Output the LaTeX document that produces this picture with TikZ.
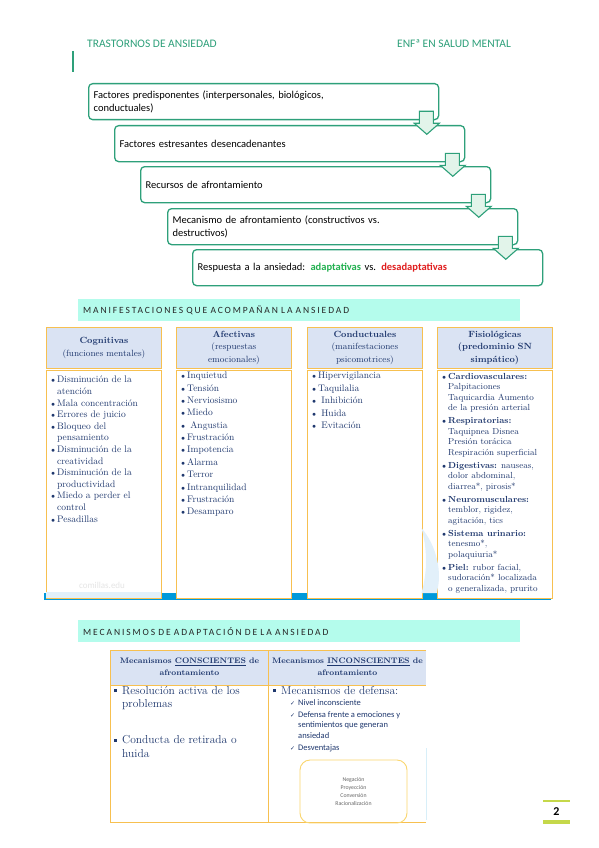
\documentclass[tikz,border=0pt]{standalone}
\usepackage{fontspec}
\usepackage{tikz}
\newfontfamily\calib{Carlito}
\newfontfamily\calibesp[LetterSpace=20]{Carlito}
\newfontfamily\dejav{DejaVu Sans}
\definecolor{verde}{RGB}{46,160,122}
\definecolor{verdeclaro}{RGB}{226,244,234}
\definecolor{menta}{RGB}{180,252,236}
\definecolor{azulcab}{RGB}{218,227,243}
\definecolor{naranja}{RGB}{247,192,80}
\definecolor{amarillo}{RGB}{250,214,110}
\definecolor{marino}{RGB}{31,56,110}
\definecolor{azulfranja}{RGB}{0,153,218}
\definecolor{celeste}{RGB}{226,240,250}
\definecolor{lima}{RGB}{197,216,74}
\definecolor{verdeadap}{RGB}{34,176,80}
\definecolor{rojodes}{RGB}{224,30,30}
\newcommand\pto{\makebox[6pt][l]{\fontsize{7}{7}\selectfont$\bullet$}}
\newcommand\sgue{\hspace*{6pt}}
\newcommand\cuad{\makebox[8pt][l]{\rule[2pt]{3.2pt}{3.2pt}}}
\newcommand\visto{\makebox[8pt][l]{\dejav\fontsize{6}{6}\selectfont ✓}}
\tikzset{
  cabeza/.style={anchor=west, inner sep=0pt, text=verde, font=\calib\fontsize{11.5}{12}\selectfont},
  paso/.style={draw=verde, line width=1.3pt, rounded corners=4pt, fill=white, anchor=north west,
    minimum height=36pt, text width=340pt, inner xsep=5pt, inner ysep=0pt, align=left,
    font=\calib\fontsize{10.5}{12.5}\selectfont},
  flecha/.style={draw=verde, fill=verdeclaro, line width=1.1pt, line join=miter},
  franja/.style={fill=menta, anchor=north west, minimum height=22pt, text width=432pt,
    inner xsep=5pt, inner ysep=0pt, align=left, text=black!85, font=\calibesp\fontsize{9.5}{10}\selectfont},
  cabecera/.style={fill=azulcab, draw=naranja, line width=0.8pt, anchor=north west, minimum height=41pt,
    text width=110pt, inner xsep=2.5pt, inner ysep=0pt, align=center, text=marino,
    font=\fontsize{9}{12.5}\selectfont},
  cuerpo/.style={fill=white, draw=naranja, line width=0.8pt, anchor=north west, minimum width=115pt,
    minimum height=228pt, inner sep=0pt},
  lista/.style={anchor=north west, inner sep=0pt, align=left, text=marino},
  cabtab/.style={inner sep=0pt, align=center, text=marino, font=\bfseries\fontsize{8}{12}\selectfont},
  recuadro/.style={draw=amarillo, line width=0.9pt, rounded corners=10pt, minimum width=107pt,
    minimum height=63pt, align=center, text=black!60, font=\calib\fontsize{5.8}{8}\selectfont}
}
\begin{document}
\begin{tikzpicture}[x=1pt,y=-1pt]
\fill[white] (0,0) rectangle (599,848);
\useasboundingbox (0,0) rectangle (599,848);

\node[cabeza] (tit) at (87,44) {TRASTORNOS DE ANSIEDAD};
\node[cabeza] (enf) at (397,44) {ENFª EN SALUD MENTAL};
\draw[verde, line width=2pt] (73,51) -- (73,72);

\node[paso] (p1) at (88,83) {Factores predisponentes (interpersonales, biológicos,\\conductuales)};
\node[paso] (p2) at (114,125) {Factores estresantes desencadenantes};
\node[paso] (p3) at (140,166) {Recursos de afrontamiento};
\node[paso] (p4) at (167,208) {Mecanismo de afrontamiento (constructivos vs.\\destructivos)};
\node[paso] (p5) at (192,249) {Respuesta a la ansiedad: {\bfseries\color{verdeadap}adaptativas} vs. {\bfseries\color{rojodes}desadaptativas}};

\foreach \p in {p1,p2,p3,p4}
  \draw[flecha, shift={(\p.south east)}] (-6,-9) -- (-20,-9) -- (-20,3) -- (-25,3) -- (-12.5,14) -- (0,3) -- (-6,3) -- cycle;

\node[franja] (man) at (78,299) {MANIFESTACIONES QUE ACOMPAÑAN LA ANSIEDAD};

\node[cabecera] (cog) at (46,327) {\textbf{Cognitivas}\\(funciones mentales)};
\node[cabecera] (afe) at (176,327) {\textbf{Afectivas}\\(respuestas\\emocionales)};
\node[cabecera] (con) at (307,327) {\textbf{Conductuales}\\(manifestaciones\\psicomotrices)};
\node[cabecera] (fis) at (437,327) {\textbf{Fisiológicas}\\\textbf{(predominio SN}\\\textbf{simpático)}};

\fill[azulfranja] (44,593) rectangle (551,600);
\node[cuerpo] (cogc) at (46,370) {};
\node[cuerpo] (afec) at (176,370) {};
\node[cuerpo] (conc) at (307,370) {};
\node[cuerpo] (fisc) at (437,370) {};
\fill[celeste] (46.4,592) rectangle (160.6,597.6);
\fill[celeste] (421.5,528) .. controls (436,545) and (443,572) .. (436.6,593) -- (421.5,593) .. controls (428,570) and (427,548) .. cycle;
\node[font=\calib\fontsize{9}{9}\selectfont, text=black!10] (marca) at (102,585) {comillas.edu};

\node[lista, font=\fontsize{9.5}{11.6}\selectfont] (cogl) at ([xshift=5pt,yshift=-6pt]cogc.north west)
  {\pto Disminución de la\\ \sgue atención\\ \pto Mala concentración\\ \pto Errores de juicio\\
   \pto Bloqueo del\\ \sgue pensamiento\\ \pto Disminución de la\\ \sgue creatividad\\
   \pto Disminución de la\\ \sgue productividad\\ \pto Miedo a perder el\\ \sgue control\\ \pto Pesadillas};
\node[lista, font=\fontsize{9.5}{12.36}\selectfont] (afel) at ([xshift=5pt,yshift=-2pt]afec.north west)
  {\pto Inquietud\\ \pto Tensión\\ \pto Nerviosismo\\ \pto Miedo\\ \pto\ Angustia\\ \pto Frustración\\
   \pto Impotencia\\ \pto Alarma\\ \pto Terror\\ \pto Intranquilidad\\ \pto Frustración\\ \pto Desamparo};
\node[lista, font=\fontsize{9.5}{12.5}\selectfont] (conl) at ([xshift=5pt,yshift=-2pt]conc.north west)
  {\pto Hipervigilancia\\ \pto Taquilalia\\ \pto\ Inhibición\\ \pto\ Huida\\ \pto\ Evitación};
\node[lista, font=\fontsize{8.8}{10.5}\selectfont] (fisl) at ([xshift=5pt,yshift=-3pt]fisc.north west)
  {\pto\textbf{Cardiovasculares:}\\ \sgue Palpitaciones\\ \sgue Taquicardia Aumento\\ \sgue de la presión arterial\\[2.5pt]
   \pto\textbf{Respiratorias:}\\ \sgue Taquipnea Disnea\\ \sgue Presión torácica\\ \sgue Respiración superficial\\[2.5pt]
   \pto\textbf{Digestivas:} nauseas,\\ \sgue dolor abdominal,\\ \sgue diarrea*, pirosis*\\[2.5pt]
   \pto\textbf{Neuromusculares:}\\ \sgue temblor, rigidez,\\ \sgue agitación, tics\\[2.5pt]
   \pto\textbf{Sistema urinario:}\\ \sgue tenesmo*,\\ \sgue polaquiuria*\\[2.5pt]
   \pto\textbf{Piel:} rubor facial,\\ \sgue sudoración* localizada\\ \sgue o generalizada, prurito};

\node[franja] (meca) at (78,620) {MECANISMOS DE ADAPTACIÓN DE LA ANSIEDAD};

\fill[azulcab] (110,650) rectangle (426,685);
\draw[naranja, line width=1pt] (110,650) -- (426,650) (110,685) -- (426,685)
  (110,650) -- (110,822) -- (426,822) (268.5,650) -- (268.5,822);
\draw[celeste!70!azulfranja!40, line width=0.8pt] (426.5,748) -- (426.5,820);
\node[cabtab] (consc) at (189.5,667) {Mecanismos \underline{CONSCIENTES} de\\afrontamiento};
\node[cabtab] (incon) at (347.5,667) {Mecanismos \underline{INCONSCIENTES} de\\afrontamiento};

\node[lista, font=\fontsize{11.5}{13.5}\selectfont] (resol) at (114,686)
  {\cuad Resolución activa de los\\ \hspace*{8pt}problemas\\[22.5pt] \cuad Conducta de retirada o\\ \hspace*{8pt}huida};
\node[lista, font=\fontsize{11.5}{13.5}\selectfont] (defen) at (273,686) {\cuad Mecanismos de defensa:};
\node[lista, font=\calib\fontsize{8.5}{10.5}\selectfont] (nivel) at (290,699)
  {\visto Nivel inconsciente\\[1.5pt] \visto Defensa frente a emociones y\\ \hspace*{8pt}sentimientos que generan\\ \hspace*{8pt}ansiedad\\[1.5pt] \visto Desventajas};
\node[recuadro] (neg) at (353.5,791.5) {Negación\\Proyección\\Conversión\\Racionalización};

\node[font=\calib\bfseries\fontsize{12}{12}\selectfont] (pag) at (556.5,812) {2};
\draw[lima, line width=2pt] (543,801) -- (570,801);
\draw[lima, line width=3.5pt] (543,822) -- (570,822);
\end{tikzpicture}
\end{document}
